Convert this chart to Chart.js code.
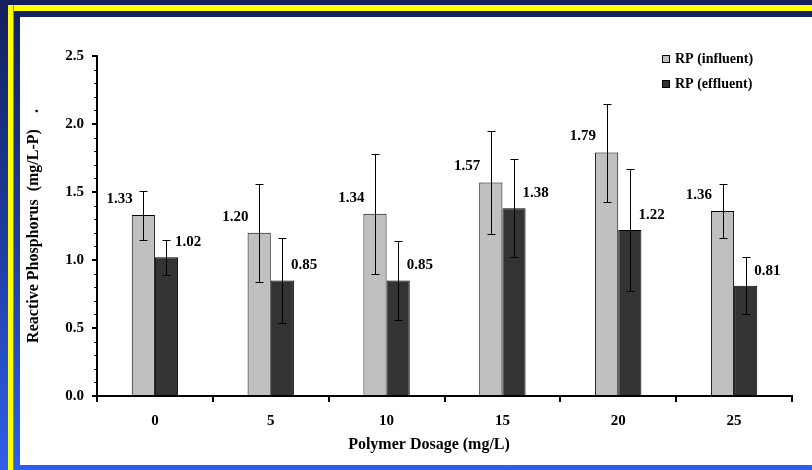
<!DOCTYPE html>
<html>
<head>
<meta charset="utf-8">
<script src="https://cdn.jsdelivr.net/npm/chart.js"></script>
<style>
  html, body { margin: 0; padding: 0; }
  body {
    width: 812px; height: 470px; overflow: hidden; position: relative;
    background: linear-gradient(to bottom, #13205c 0%, #1f3c9e 50%, #2f5fea 100%);
  }
  #stripeTop { position: absolute; left: 8px; top: 5px; width: 804px; height: 6px; background: #ffff00; }
  #stripeLeft { position: absolute; left: 8px; top: 5px; width: 5px; height: 465px; background: #ffff00; border-right: 1px solid #8a8a60; }
  #panel { position: absolute; left: 20px; top: 17px; width: 792px; height: 448px; background: #fff; }
</style>
</head>
<body>
<div id="stripeTop"></div>
<div id="stripeLeft"></div>
<div id="panel"><canvas id="chart" width="792" height="448"></canvas></div>
<script>
// data
const dosages = ["0", "5", "10", "15", "20", "25"];
const rpInfluent = [1.33, 1.20, 1.34, 1.57, 1.79, 1.36];
const rpEffluent = [1.02, 0.85, 0.85, 1.38, 1.22, 0.81];
const errInfluent = [0.18, 0.36, 0.44, 0.38, 0.36, 0.20];
const errEffluent = [0.13, 0.31, 0.29, 0.36, 0.45, 0.21];

const FONT = "'Liberation Serif', 'Times New Roman', serif";

// error bars with caps on both ends
const errorBars = {
    id: "errorBars",
    afterDatasetsDraw(chart) {
        const ctx = chart.ctx;
        const y = chart.scales.y;
        ctx.save();
        ctx.strokeStyle = "#000";
        ctx.lineWidth = 1;
        chart.data.datasets.forEach((ds, i) => {
            const meta = chart.getDatasetMeta(i);
            meta.data.forEach((bar, j) => {
                const v = ds.data[j], e = ds.errors[j];
                const x = Math.round(bar.x) + 0.5;
                const top = Math.round(y.getPixelForValue(v + e)) + 0.5;
                const bot = Math.round(y.getPixelForValue(v - e)) + 0.5;
                ctx.beginPath();
                ctx.moveTo(x, top); ctx.lineTo(x, bot);
                ctx.moveTo(x - 4, top); ctx.lineTo(x + 4, top);
                ctx.moveTo(x - 4, bot); ctx.lineTo(x + 4, bot);
                ctx.stroke();
            });
        });
        ctx.restore();
    }
};

// value labels: influent on the left of its bar, effluent on the right
const valueLabels = {
    id: "valueLabels",
    afterDatasetsDraw(chart) {
        const ctx = chart.ctx;
        ctx.save();
        ctx.font = "bold 15px " + FONT;
        ctx.fillStyle = "#000";
        ctx.textBaseline = "middle";
        chart.data.datasets.forEach((ds, i) => {
            const meta = chart.getDatasetMeta(i);
            meta.data.forEach((bar, j) => {
                const txt = ds.data[j].toFixed(2);
                const half = bar.width / 2;
                if (i === 0) {
                    ctx.textAlign = "right";
                    ctx.fillText(txt, bar.x - half + 1, bar.y - 16);
                } else {
                    ctx.textAlign = "left";
                    ctx.fillText(txt, bar.x + half - 3, bar.y - 15);
                }
            });
        });
        ctx.restore();
    }
};

// minor ticks on the y axis, x axis title and the legend in the top right
const extras = {
    id: "extras",
    afterDraw(chart) {
        const ctx = chart.ctx;
        const y = chart.scales.y;
        const left = chart.chartArea.left;
        ctx.save();
        ctx.strokeStyle = "#000";
        ctx.lineWidth = 1;
        for (let v = 0.1; v < 2.5; v += 0.1) {
            if (Math.abs(v * 2 - Math.round(v * 2)) < 1e-6) continue;
            const py = Math.round(y.getPixelForValue(v)) + 0.5;
            ctx.beginPath();
            ctx.moveTo(left - 3, py); ctx.lineTo(left, py);
            ctx.stroke();
        }
        ctx.fillStyle = "#000";
        ctx.font = "bold 16px " + FONT;
        ctx.textAlign = "center";
        ctx.textBaseline = "middle";
        ctx.fillText("Polymer Dosage (mg/L)", 409, 428);
        // legend
        ctx.font = "bold 14px " + FONT;
        ctx.textAlign = "left";
        chart.data.datasets.forEach((ds, i) => {
            const ly = 42 + i * 25;
            ctx.fillStyle = ds.backgroundColor;
            ctx.fillRect(642.5, ly - 3.5, 7, 7);
            ctx.strokeStyle = "#000";
            ctx.strokeRect(642.5, ly - 3.5, 7, 7);
            ctx.fillStyle = "#000";
            ctx.fillText(ds.label, 655, ly);
        });
        ctx.restore();
    }
};

new Chart(document.getElementById("chart"), {
    type: "bar",
    data: {
        labels: dosages,
        datasets: [
            { label: "RP (influent)", data: rpInfluent, errors: errInfluent,
              backgroundColor: "#c0c0c0", borderColor: "#000", borderWidth: 1 },
            { label: "RP (effluent)", data: rpEffluent, errors: errEffluent,
              backgroundColor: "#333333", borderColor: "#000", borderWidth: 1 }
        ]
    },
    plugins: [errorBars, valueLabels, extras],
    options: {
        responsive: false,
        animation: false,
        layout: { padding: { left: 0, top: 39, right: 20, bottom: 0 } },
        datasets: { bar: { categoryPercentage: 0.4, barPercentage: 1.0 } },
        plugins: { legend: { display: false }, tooltip: { enabled: false } },
        scales: {
            x: {
                grid: { drawOnChartArea: false, drawTicks: true, tickLength: 6, color: "#000", lineWidth: 2, offset: true },
                border: { display: true, color: "#000", width: 2 },
                ticks: { color: "#000", padding: 10, font: { family: FONT, size: 15, weight: "bold" } },
                afterFit(scale) { scale.height = 69; }
            },
            y: {
                min: 0, max: 2.5,
                grid: { drawOnChartArea: false, drawTicks: true, tickLength: 5, color: "#000", lineWidth: 2 },
                border: { display: true, color: "#000", width: 2 },
                ticks: { stepSize: 0.5, color: "#000", padding: 8,
                         callback: v => Number(v).toFixed(1),
                         font: { family: FONT, size: 15, weight: "bold" } },
                title: { display: true, text: "Reactive Phosphorus  (mg/L-P)    .", color: "#000", padding: { bottom: 0, top: 4 },
                         font: { family: FONT, size: 16, weight: "bold" } },
                afterFit(scale) { scale.width = 77; }
            }
        }
    }
});
</script>
</body>
</html>
